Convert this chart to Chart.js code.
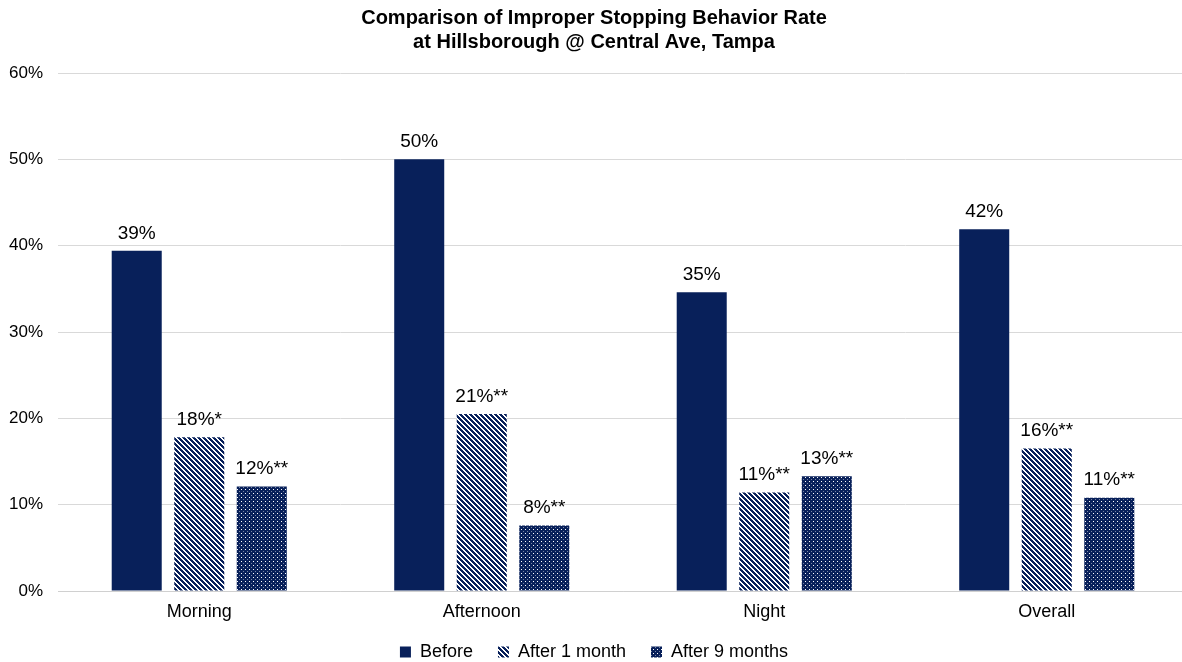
<!DOCTYPE html>
<html lang="en">
<head>
  <meta charset="UTF-8">
  <title>Improper Stopping Behavior Rate</title>
  <script src="https://cdn.jsdelivr.net/npm/chart.js@4.4.1/dist/chart.umd.min.js"></script>
  <style>
    body {
      margin: 0;
      background: #ffffff;
      overflow: hidden;
    }
    /* a bit bigger than the window, the plot runs past the right edge like the original */
    .chart-box {
      width: 1188px;
      height: 671px;
    }
  </style>
</head>
<body>
  <div class="chart-box">
    <canvas id="stop-chart"></canvas>
  </div>

  <script>
    // data (percent)
    const periods = ['Morning', 'Afternoon', 'Night', 'Overall'];
    const seriesNames = ['Before', 'After 1 month', 'After 9 months'];
    const beforeVals = [39.4, 50.0, 34.6, 41.9];
    const after1Vals = [17.8, 20.5, 11.4, 16.5];
    const after9Vals = [12.1, 7.6, 13.3, 10.8];
    const beforeLabels = ['39%', '50%', '35%', '42%'];
    const after1Labels = ['18%*', '21%**', '11%**', '16%**'];
    const after9Labels = ['12%**', '8%**', '13%**', '11%**'];
    const yTicks = [0, 10, 20, 30, 40, 50, 60];

    const navy = '#08205a';
    const fontName = '"Liberation Sans", Arial, sans-serif';

    // hatch patterns like the Excel fills
    function stripePattern() {
      const c = document.createElement('canvas');
      c.width = 5; c.height = 5;
      const g = c.getContext('2d');
      g.fillStyle = '#ffffff';
      g.fillRect(0, 0, 5, 5);
      g.fillStyle = navy;
      for (let y = 0; y < 5; y++) {
        for (let x = 0; x < 5; x++) {
          if (((x - y) % 5 + 5) % 5 < 3) g.fillRect(x, y, 1, 1);
        }
      }
      return g.createPattern(c, 'repeat');
    }

    function dotPattern() {
      const c = document.createElement('canvas');
      c.width = 4; c.height = 4;
      const g = c.getContext('2d');
      g.fillStyle = navy;
      g.fillRect(0, 0, 4, 4);
      g.fillStyle = '#ffffff';
      g.fillRect(1, 1, 1, 1);
      g.fillStyle = 'rgba(255,255,255,0.45)';
      g.fillRect(3, 3, 1, 1);
      return g.createPattern(c, 'repeat');
    }

    const barLabels = [beforeLabels, after1Labels, after9Labels];

    // value labels above each bar
    const valueLabels = {
      id: 'valueLabels',
      afterDatasetsDraw(chart) {
        const ctx = chart.ctx;
        ctx.save();
        ctx.font = '19px ' + fontName;
        ctx.fillStyle = '#000000';
        ctx.textAlign = 'center';
        ctx.textBaseline = 'bottom';
        chart.data.datasets.forEach((ds, i) => {
          chart.getDatasetMeta(i).data.forEach((bar, j) => {
            ctx.fillText(barLabels[i][j], bar.x, bar.y - 8);
          });
        });
        ctx.restore();
      }
    };

    // the legend keeps its wide item spacing but takes less height
    const legendTrim = {
      id: 'legendTrim',
      afterInit(chart) {
        const lg = chart.legend;
        if (!lg) return;
        const fit = lg.fit;
        const draw = lg.draw;
        lg.fit = function () {
          fit.call(this);
          this.height -= 15;
        };
        lg.draw = function () {
          this.top -= 15;
          draw.call(this);
          this.top += 15;
        };
      }
    };

    const ctx = document.getElementById('stop-chart').getContext('2d');
    new Chart(ctx, {
      type: 'bar',
      data: {
        labels: periods,
        datasets: [
          { label: seriesNames[0], data: beforeVals, backgroundColor: navy },
          { label: seriesNames[1], data: after1Vals, backgroundColor: stripePattern() },
          { label: seriesNames[2], data: after9Vals, backgroundColor: dotPattern() }
        ]
      },
      options: {
        responsive: true,
        maintainAspectRatio: false,
        animation: false,
        layout: { padding: 0 },
        datasets: {
          bar: { categoryPercentage: 0.664, barPercentage: 0.8 }
        },
        scales: {
          x: {
            grid: { display: false, drawTicks: false },
            border: { display: true, color: '#d0d0d0', width: 1 },
            ticks: {
              color: '#000000',
              padding: 12,
              font: { family: fontName, size: 18, lineHeight: 1 }
            }
          },
          y: {
            min: 0,
            max: 60,
            afterFit: s => { s.width = 58; },
            afterBuildTicks: s => { s.ticks = yTicks.map(v => ({ value: v })); },
            grid: { color: '#d9d9d9', drawTicks: false },
            border: { display: false },
            ticks: {
              color: '#000000',
              padding: 15,
              font: { family: fontName, size: 17 },
              callback: v => v + '%'
            }
          }
        },
        plugins: {
          title: {
            display: true,
            text: ['Comparison of Improper Stopping Behavior Rate', 'at Hillsborough @ Central Ave, Tampa'],
            color: '#000000',
            font: { family: fontName, size: 20, weight: 'bold', lineHeight: 1.2 },
            padding: { top: 6, bottom: 19 }
          },
          legend: {
            position: 'bottom',
            labels: {
              color: '#000000',
              boxWidth: 11,
              boxHeight: 11,
              padding: 25,
              font: { family: fontName, size: 18 }
            }
          },
          tooltip: { enabled: false }
        }
      },
      plugins: [valueLabels, legendTrim]
    });
  </script>
</body>
</html>
